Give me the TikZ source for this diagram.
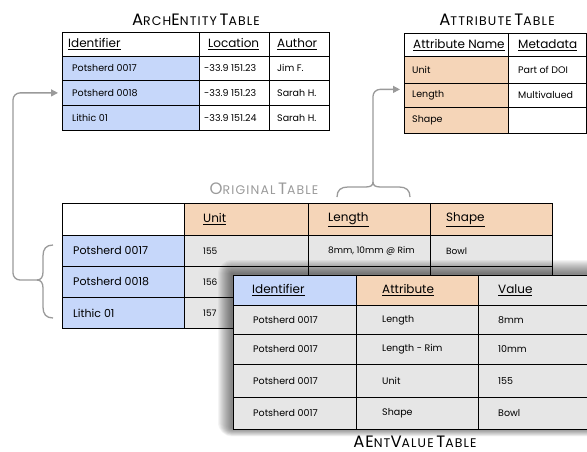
\documentclass[tikz,border=0pt]{standalone}
\usepackage{fontspec}
\setmainfont{Poppins}
\usetikzlibrary{arrows.meta}
\definecolor{cblue}{HTML}{C6D7FA}
\definecolor{corange}{HTML}{F5D5B8}
\definecolor{cgray}{HTML}{E6E6E6}
\definecolor{cline}{HTML}{9A9A9A}
\newcommand\fsc[2]{{\fontsize{16.5}{17}\selectfont\addfontfeature{LetterSpace=5}#1}{\fontsize{12.5}{13}\selectfont\addfontfeature{LetterSpace=9}#2}}
\newcommand\hdr[1]{{\fontsize{12}{12}\selectfont\underline{#1}}}
\newcommand\bgtxt[1]{{\fontsize{11}{11}\selectfont #1}}
\newcommand\smtxt[1]{{\fontsize{9}{9}\selectfont #1}}
\newcommand\cellat[8]{%
  \node[cellbox, fill=#6, minimum width=#4pt, minimum height=#5pt] (#1) at (#2,#3) {};
  \node[celltext, xshift=#7pt] (#1-t) at (#1.west) {#8};
}
\tikzset{
  cellbox/.style={draw=black, line width=0.8pt, inner sep=0pt, anchor=north west},
  celltext/.style={anchor=west, inner sep=0pt, font=\fontsize{9.5}{10}\selectfont},
  tabtitle/.style={inner sep=0pt},
  conn/.style={draw=cline, line width=1.3pt, rounded corners=7pt},
  brace/.style={draw=cline, line width=1.3pt},
  tip/.style={-{Triangle[length=7pt,width=7pt]}, shorten >=4pt}
}
\begin{document}
\begin{tikzpicture}[x=1pt,y=-1pt]
\useasboundingbox (0,0) rectangle (587,452);
\clip (0,0) rectangle (587,452);

% ---------- ArchEntity table ----------
\node[tabtitle] (t-ae) at (196,20) {\fsc{A}{RCH}\fsc{E}{NTITY} \fsc{T}{ABLE}};
\cellat{ae-h1}{62}{32}{137}{24}{white}{6}{\hdr{Identifier}}
\cellat{ae-h2}{199}{32}{70}{24}{white}{9}{\hdr{Location}}
\cellat{ae-h3}{269}{32}{60}{24}{white}{8}{\hdr{Author}}
\cellat{ae-1a}{62}{56}{137}{24}{cblue}{10}{Potsherd 0017}
\cellat{ae-1b}{199}{56}{70}{24}{white}{5}{-33.9 151.23}
\cellat{ae-1c}{269}{56}{60}{24}{white}{8}{Jim F.}
\cellat{ae-2a}{62}{80}{137}{25}{cblue}{10}{Potsherd 0018}
\cellat{ae-2b}{199}{80}{70}{25}{white}{5}{-33.9 151.23}
\cellat{ae-2c}{269}{80}{60}{25}{white}{8}{Sarah H.}
\cellat{ae-3a}{62}{105}{137}{25}{cblue}{10}{Lithic 01}
\cellat{ae-3b}{199}{105}{70}{25}{white}{5}{-33.9 151.24}
\cellat{ae-3c}{269}{105}{60}{25}{white}{8}{Sarah H.}

% ---------- Attribute table ----------
\node[tabtitle] (t-at) at (497,20) {\fsc{A}{TTRIBUTE} \fsc{T}{ABLE}};
\cellat{at-h1}{404}{33}{104}{23}{white}{9}{\hdr{Attribute Name}}
\cellat{at-h2}{508}{33}{78}{23}{white}{10}{\hdr{Metadata}}
\cellat{at-1a}{404}{56}{104}{27}{corange}{8}{Unit}
\cellat{at-1b}{508}{56}{78}{27}{white}{10}{Part of DOI}
\cellat{at-2a}{404}{83}{104}{24}{corange}{8}{Length}
\cellat{at-2b}{508}{83}{78}{24}{white}{10}{Multivalued}
\cellat{at-3a}{404}{107}{104}{26}{corange}{8}{Shape}
\cellat{at-3b}{508}{107}{78}{26}{white}{10}{}

% ---------- Original table ----------
\node[tabtitle, text=cline] (t-og) at (264,189) {\fsc{O}{RIGINAL} \fsc{T}{ABLE}};
\cellat{og-h0}{62}{203}{122}{32}{white}{10}{}
\cellat{og-h1}{184}{203}{124}{32}{corange}{19}{\hdr{Unit}}
\cellat{og-h2}{308}{203}{122}{32}{corange}{20}{\hdr{Length}}
\cellat{og-h3}{430}{203}{122}{32}{corange}{16}{\hdr{Shape}}
\cellat{og-1a}{62}{235}{122}{31}{cblue}{11}{\bgtxt{Potsherd 0017}}
\cellat{og-1b}{184}{235}{124}{31}{cgray}{19}{\smtxt{155}}
\cellat{og-1c}{308}{235}{122}{31}{cgray}{20}{\smtxt{8mm, 10mm @ Rim}}
\cellat{og-1d}{430}{235}{122}{31}{cgray}{16}{\smtxt{Bowl}}
\cellat{og-2a}{62}{266}{122}{31}{cblue}{11}{\bgtxt{Potsherd 0018}}
\cellat{og-2b}{184}{266}{124}{31}{cgray}{19}{\smtxt{156}}
\cellat{og-2c}{308}{266}{122}{31}{cgray}{20}{}
\cellat{og-2d}{430}{266}{122}{31}{cgray}{16}{}
\cellat{og-3a}{62}{297}{122}{31}{cblue}{11}{\bgtxt{Lithic 01}}
\cellat{og-3b}{184}{297}{124}{31}{cgray}{19}{\smtxt{157}}
\cellat{og-3c}{308}{297}{122}{31}{cgray}{20}{}
\cellat{og-3d}{430}{297}{122}{31}{cgray}{16}{}

% ---------- shadow ----------
\foreach \i in {1,...,14}{
  \fill[black, opacity=0.045, rounded corners=\i pt] (232-\i,274-\i) rectangle (600,428+\i*0.6);
}

% ---------- AEntValue table ----------
\node[tabtitle] (t-av) at (415,442) {\fsc{AE}{NT}\fsc{V}{ALUE} \fsc{T}{ABLE}};
\cellat{av-h1}{233}{275}{123}{30}{cblue}{19}{\hdr{Identifier}}
\cellat{av-h2}{356}{275}{122}{30}{corange}{26}{\hdr{Attribute}}
\cellat{av-h3}{478}{275}{120}{30}{cgray}{20}{\hdr{Value}}
\cellat{av-1a}{233}{305}{123}{29}{cgray}{20}{Potsherd 0017}
\cellat{av-1b}{356}{305}{122}{29}{cgray}{26}{Length}
\cellat{av-1c}{478}{305}{120}{29}{cgray}{20}{8mm}
\cellat{av-2a}{233}{334}{123}{30}{cgray}{20}{Potsherd 0017}
\cellat{av-2b}{356}{334}{122}{30}{cgray}{26}{Length - Rim}
\cellat{av-2c}{478}{334}{120}{30}{cgray}{20}{10mm}
\cellat{av-3a}{233}{364}{123}{33}{cgray}{20}{Potsherd 0017}
\cellat{av-3b}{356}{364}{122}{33}{cgray}{26}{Unit}
\cellat{av-3c}{478}{364}{120}{33}{cgray}{20}{155}
\cellat{av-4a}{233}{397}{123}{32}{cgray}{20}{Potsherd 0017}
\cellat{av-4b}{356}{397}{122}{32}{cgray}{26}{Shape}
\cellat{av-4c}{478}{397}{120}{32}{cgray}{20}{Bowl}

% ---------- braces ----------
\coordinate (lb-tip) at (37,280);
\draw[brace] (53,245) .. controls (46,245) and (43,249) .. (43,256) -- (43,272)
  .. controls (43,277) and (41,280) .. (lb-tip);
\draw[brace] (53,318) .. controls (46,318) and (43,314) .. (43,307) -- (43,288)
  .. controls (43,283) and (41,280) .. (lb-tip);
\coordinate (rb-tip) at (373,182);
\draw[brace] (337,197) .. controls (337,190) and (341,187) .. (348,187) -- (365,187)
  .. controls (370,187) and (373,186) .. (rb-tip);
\draw[brace] (410,197) .. controls (410,190) and (406,187) .. (399,187) -- (381,187)
  .. controls (376,187) and (373,186) .. (rb-tip);

% ---------- connectors ----------
\coordinate (lk) at (13,280);
\draw[conn, tip] (lb-tip) -- (lk) |- (ae-2a.west);
\draw[conn, tip] (rb-tip) |- ([yshift=6pt]at-2a.west);
\end{tikzpicture}
\end{document}
